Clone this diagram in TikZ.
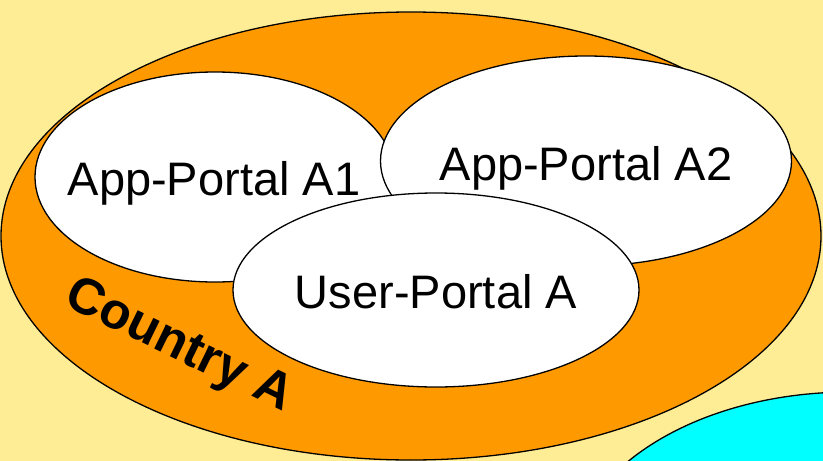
\documentclass[tikz,border=0pt]{standalone}
\usepackage{fontspec}
\setmainfont{Liberation Sans}
\usetikzlibrary{shapes.geometric}
\definecolor{bgyellow}{RGB}{255,237,150}
\definecolor{countryorange}{RGB}{255,153,0}
\definecolor{skycyan}{RGB}{0,255,255}
\tikzset{
  region/.style={ellipse, draw=black, line width=1.3pt, inner sep=0pt, outer sep=0pt},
  portal/.style={region, fill=white},
  portaltext/.style={anchor=base, inner sep=0pt, font=\fontsize{47}{50}\selectfont},
}
\begin{document}
\begin{tikzpicture}[x=1pt, y=-1pt]
  \fill[bgyellow] (0,0) rectangle (823,461);
  \useasboundingbox (0,0) rectangle (823,461);
  \begin{scope}
    \clip (0,0) rectangle (823,461);
    \node[region, fill=skycyan, minimum width=560pt, minimum height=356pt] (other) at (850,570) {};
    \node[region, fill=countryorange, minimum width=820pt, minimum height=448pt] (country) at (411,236) {};
  \end{scope}
  \node[portal, minimum width=360pt, minimum height=210pt] (a1) at (215,177) {};
  \node[portal, minimum width=411pt, minimum height=210pt] (a2) at (586,161) {};
  \node[portal, minimum width=406pt, minimum height=194pt] (up) at (436,290) {};
  \node[portaltext] (a1t) at (214,195) {App-Portal A1};
  \node[portaltext] (a2t) at (586,180) {App-Portal A2};
  \node[portaltext] (upt) at (436,308) {User-Portal A};
  \node[anchor=base west, inner sep=0pt, rotate=-26, font=\fontsize{51}{54}\selectfont\bfseries] (ct) at (62,304) {Country A};
\end{tikzpicture}
\end{document}
